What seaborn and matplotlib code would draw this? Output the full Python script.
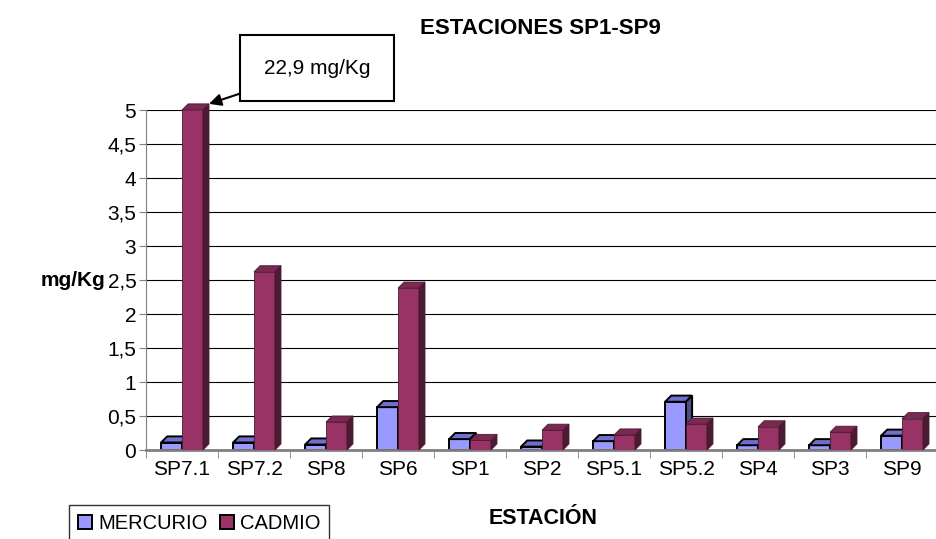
import pandas as pd
import matplotlib.pyplot as plt
import seaborn as sns
from matplotlib.patches import Polygon, Patch
from matplotlib.ticker import FixedLocator, FuncFormatter

# Données (mg/Kg)
estaciones = ['SP7.1', 'SP7.2', 'SP8', 'SP6', 'SP1', 'SP2', 'SP5.1', 'SP5.2', 'SP4', 'SP3', 'SP9']
mercurio = [0.11, 0.11, 0.08, 0.63, 0.16, 0.05, 0.13, 0.71, 0.07, 0.07, 0.21]
cadmio = [22.9, 2.62, 0.41, 2.38, 0.14, 0.29, 0.22, 0.38, 0.34, 0.26, 0.46]

colors = {'MERCURIO': '#9999FF', 'CADMIO': '#993366'}
tops = {'MERCURIO': '#6F6FCC', 'CADMIO': '#7A2952'}
sides = {'MERCURIO': '#4D4D80', 'CADMIO': '#4D1A33'}

df = pd.DataFrame({'Estación': estaciones * 2,
                   'Valor': mercurio + cadmio,
                   'Serie': ['MERCURIO'] * len(estaciones) + ['CADMIO'] * len(estaciones)})

plt.rcParams['font.family'] = ['Liberation Sans', 'DejaVu Sans']

fig = plt.figure(figsize=(9.36, 5.39), dpi=100)
ax = fig.add_axes([146 / 936, 1 - 450 / 539, 792 / 936, 340 / 539])

sns.barplot(data=df, x='Estación', y='Valor', hue='Serie', palette=colors,
            width=0.58, gap=0, ax=ax, legend=False, saturation=1)

ymax = 5
ax.set_ylim(0, ymax)
ax.set_xlim(-0.5, len(estaciones) - 0.5)

# effet 3D : faces du dessus et de côté
dx, dy = 0.085, 0.09
for i, (serie, cont) in enumerate(zip(['MERCURIO', 'CADMIO'], ax.containers)):
    ec = 'black' if serie == 'MERCURIO' else sides[serie]
    lw = 1.4 if serie == 'MERCURIO' else 0.6
    for p in cont.patches:
        p.set_zorder(2 + i)
        p.set_edgecolor(ec)
        p.set_linewidth(lw)
        x, w = p.get_x(), p.get_width()
        h = min(p.get_height(), ymax)
        top = Polygon([(x, h), (x + dx, h + dy), (x + w + dx, h + dy), (x + w, h)],
                      closed=True, facecolor=tops[serie], edgecolor=ec, lw=lw,
                      zorder=2.1 + i, clip_on=False)
        side = Polygon([(x + w, 0), (x + w + dx, dy), (x + w + dx, h + dy), (x + w, h)],
                       closed=True, facecolor=sides[serie], edgecolor=ec, lw=lw,
                       zorder=2.1 + i, clip_on=False)
        ax.add_patch(top)
        ax.add_patch(side)

# grille et axes
ax.set_yticks([i * 0.5 for i in range(11)])
ax.yaxis.set_major_formatter(FuncFormatter(lambda v, _: f'{v:g}'.replace('.', ',')))
ax.grid(axis='y', color='black', linewidth=0.8)
ax.set_axisbelow(True)
ax.xaxis.set_minor_locator(FixedLocator([i - 0.5 for i in range(len(estaciones) + 1)]))
ax.tick_params(axis='x', which='major', length=0, pad=7, labelsize=15)
ax.tick_params(axis='x', which='minor', length=6, color='gray')
ax.tick_params(axis='y', labelsize=15, length=5, color='gray', pad=2)
for s in ['top', 'right']:
    ax.spines[s].set_visible(False)
ax.spines['left'].set_color('gray')
ax.spines['bottom'].set_color('gray')
ax.spines['bottom'].set_linewidth(2)

ax.set_xlabel('ESTACIÓN', fontsize=15.5, fontweight='bold')
ax.xaxis.set_label_coords((543 - 146) / 792, -(518 - 450) / 340)
ax.set_ylabel('mg/Kg', fontsize=15, fontweight='bold', rotation=0)
ax.yaxis.set_label_coords((73 - 146) / 792, (450 - 280) / 340)
ax.yaxis.label.set_va('center')
ax.xaxis.label.set_va('center')
fig.text(540 / 936, 1 - 28 / 539, 'ESTACIONES SP1-SP9', ha='center', va='center',
         fontsize=16, fontweight='bold')

# annotation de la valeur réelle de SP7.1
bar = ax.containers[1].patches[0]
ax.annotate('22,9 mg/Kg', xy=(bar.get_x() + bar.get_width() + dx, ymax + dy),
            xytext=(317 / 936, 1 - 68 / 539), textcoords='figure fraction',
            ha='center', va='center', fontsize=15,
            bbox=dict(boxstyle='square,pad=1.15', fc='white', ec='black', lw=1.5),
            arrowprops=dict(arrowstyle='-|>', color='black', lw=1.5, mutation_scale=18,
                            shrinkA=0, shrinkB=0),
            annotation_clip=False)

# légende
handles = [Patch(facecolor=colors[k], edgecolor='black', lw=1.4) for k in ['MERCURIO', 'CADMIO']]
leg = fig.legend(handles, ['MERCURIO', 'CADMIO'], loc='lower left', ncol=2,
                 bbox_to_anchor=(69 / 936, -0.006), frameon=True, fancybox=False,
                 edgecolor='black', fontsize=14.5, handlelength=0.7, handleheight=0.7,
                 handletextpad=0.3, columnspacing=0.6, borderpad=0.45, borderaxespad=0)
leg.get_frame().set_linewidth(1)

plt.savefig('out.png', dpi=100)
